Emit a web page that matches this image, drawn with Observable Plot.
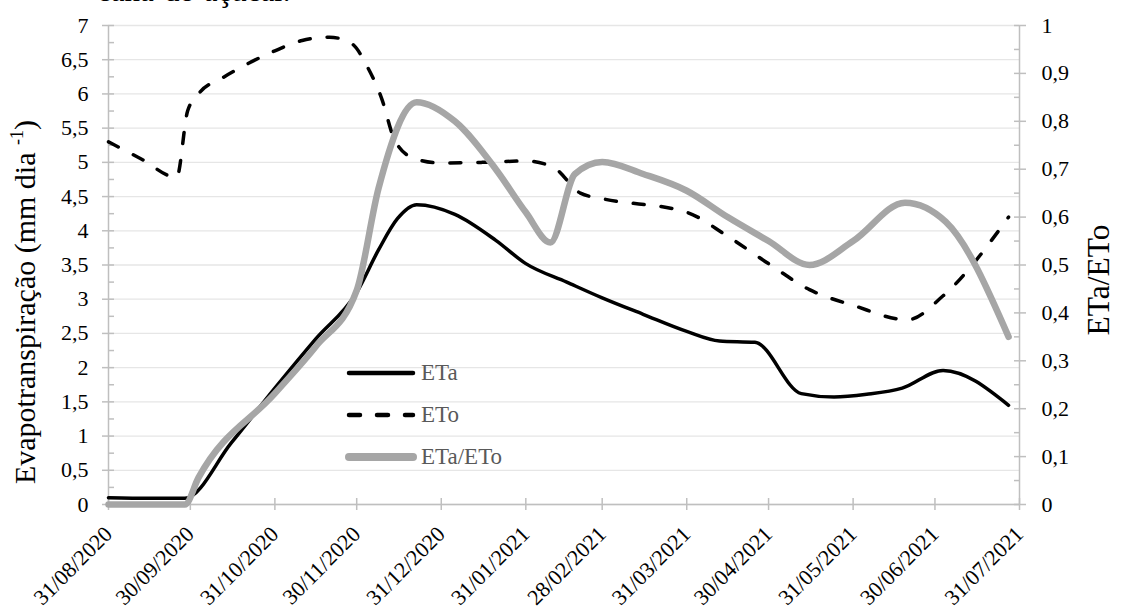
<!DOCTYPE html>
<html><head><meta charset="utf-8">
<script src="https://cdn.jsdelivr.net/npm/d3@7"></script>
<script src="https://cdn.jsdelivr.net/npm/@observablehq/plot@0.6"></script>
<style>
html,body{margin:0;padding:0;background:#fff;overflow:hidden;}
#wrap{position:relative;width:1124px;height:612px;overflow:hidden;}
#wrap, #wrap *{font-family:"Liberation Serif","Times New Roman",serif !important;}
#wrap svg text{font-family:"Liberation Serif","Times New Roman",serif !important;}
#cap{position:absolute;left:97px;top:-25px;font-size:31px;line-height:31px;white-space:nowrap;color:#000;}
.ytitle{position:absolute;white-space:nowrap;font-size:30px;line-height:34px;color:#000;transform:translate(-50%,-50%) rotate(-90deg);}
.ytitle sup{font-size:18px;vertical-align:12px;line-height:0;}
#y2{font-size:31.5px;}
#legend{position:absolute;left:345px;top:352px;font-size:23px;color:#595959;}
#legend .row{display:flex;align-items:center;height:42px;}
#legend svg{margin-right:4px;}
</style></head>
<body><div id="wrap"></div>
<script>
// ---- data ----
const xTicks = ["2020-08-31","2020-09-30","2020-10-31","2020-11-30","2020-12-31","2021-01-31","2021-02-28","2021-03-31","2021-04-30","2021-05-31","2021-06-30","2021-07-31"];
const xTickLabels = ["31/08/2020","30/09/2020","31/10/2020","30/11/2020","31/12/2020","31/01/2021","28/02/2021","31/03/2021","30/04/2021","31/05/2021","30/06/2021","31/07/2021"];
const leftTicks = [0,0.5,1,1.5,2,2.5,3,3.5,4,4.5,5,5.5,6,6.5,7];
const leftMinor = [0.25,0.75,1.25,1.75,2.25,2.75,3.25,3.75,4.25,4.75,5.25,5.75,6.25,6.75];
const rightTicks = [0,0.1,0.2,0.3,0.4,0.5,0.6,0.7,0.8,0.9,1];
const rightMinor = [0.05,0.15,0.25,0.35,0.45,0.55,0.65,0.75,0.85,0.95];

const etaDates = ["2020-08-31","2020-09-15","2020-09-28","2020-10-15","2020-10-31","2020-11-15","2020-11-30","2020-12-08","2020-12-15","2020-12-22","2021-01-05","2021-01-20","2021-01-31","2021-02-15","2021-02-28","2021-03-15","2021-03-31","2021-04-12","2021-04-25","2021-05-12","2021-05-24","2021-06-05","2021-06-18","2021-07-03","2021-07-27"];
const etaValues = [0.10,0.09,0.09,0.90,1.70,2.42,3.10,3.72,4.18,4.38,4.24,3.86,3.52,3.25,3.02,2.78,2.53,2.39,2.37,1.62,1.57,1.61,1.70,1.96,1.45];

const etoDates = ["2020-08-31","2020-09-12","2020-09-25","2020-09-29","2020-10-03","2020-10-12","2020-10-21","2020-10-31","2020-11-10","2020-11-20","2020-11-28","2020-12-04","2020-12-09","2020-12-14","2020-12-21","2020-12-31","2021-01-15","2021-01-31","2021-02-10","2021-02-20","2021-02-28","2021-03-31","2021-04-15","2021-04-30","2021-05-15","2021-05-31","2021-06-20","2021-07-03","2021-07-27"];
const etoValues = [5.30,5.05,4.78,5.75,6.00,6.24,6.44,6.63,6.78,6.83,6.74,6.39,5.95,5.32,5.06,4.99,5.00,5.02,4.93,4.55,4.47,4.27,3.92,3.52,3.14,2.91,2.70,3.05,4.20];

const ratioDates = ["2020-08-31","2020-09-15","2020-09-28","2020-10-03","2020-10-31","2020-11-15","2020-11-30","2020-12-08","2020-12-22","2021-01-05","2021-01-20","2021-01-31","2021-02-09","2021-02-18","2021-02-28","2021-03-15","2021-03-31","2021-04-15","2021-04-30","2021-05-15","2021-05-31","2021-06-19","2021-07-04","2021-07-27"];
const ratioValues = [0.00,0.00,0.00,0.056,0.232,0.33,0.447,0.66,0.84,0.80,0.70,0.61,0.547,0.69,0.715,0.69,0.655,0.60,0.55,0.50,0.55,0.63,0.59,0.35];

const seriesNames = ["ETa","ETo","ETa/ETo"];
const yTitle = "Evapotranspiração (mm dia ";
const ySup = "-1";
const y2Title = "ETa/ETo";
const caption = "cana-de-açúcar.";

// ---- chart ----
const parse = d3.utcParse("%Y-%m-%d");
const fmt = d => d3.format(".1~f")(d).replace(".", ",");
const AX = "#bfbfbf";
const FONT = "'Liberation Serif', 'Times New Roman', serif";
const K = 7; // right axis (0..1) mapped onto left axis (0..7)
const eta = etaDates.map((d,i)=>({date: parse(d), v: etaValues[i]}));
const eto = etoDates.map((d,i)=>({date: parse(d), v: etoValues[i]}));
const ratio = ratioDates.map((d,i)=>({date: parse(d), v: ratioValues[i]}));
const tickDates = xTicks.map(parse);
const labelMap = new Map(tickDates.map((d,i)=>[+d, xTickLabels[i]]));
const xmin = tickDates[0], xmax = tickDates[tickDates.length-1];

const plot = Plot.plot({
  width: 1124, height: 612,
  marginLeft: 108, marginRight: 105, marginTop: 25, marginBottom: 108,
  style: {fontFamily: FONT, fontSize: "22px", color: "#000", background: "transparent"},
  x: {type: "utc", domain: [xmin, xmax]},
  y: {domain: [0, 7]},
  marks: [
    Plot.gridY(leftTicks, {stroke: "#e6e6e6", strokeOpacity: 1, strokeWidth: 1.3}),
    Plot.ruleX([xmin, xmax], {stroke: AX, strokeWidth: 1.5}),
    Plot.ruleY([0], {stroke: AX, strokeWidth: 1.5}),
    // left axis
    Plot.axisY(leftTicks, {anchor: "left", tickSize: 12, dx: 6, tickFormat: () => "", stroke: AX, strokeWidth: 1.5, label: null}),
    Plot.axisY(leftMinor, {anchor: "left", tickSize: 6, dx: 6, tickFormat: () => "", stroke: AX, strokeWidth: 1.5, label: null}),
    Plot.axisY(leftTicks, {anchor: "left", tickSize: 0, tickPadding: 20, tickFormat: fmt, label: null, fontSize: 22}),
    // right axis
    Plot.axisY(rightTicks.map(r => r*K), {anchor: "right", tickSize: 12, dx: -6, tickFormat: () => "", stroke: AX, strokeWidth: 1.5, label: null}),
    Plot.axisY(rightMinor.map(r => r*K), {anchor: "right", tickSize: 6, dx: -6, tickFormat: () => "", stroke: AX, strokeWidth: 1.5, label: null}),
    Plot.axisY(rightTicks.map(r => r*K), {anchor: "right", tickSize: 0, tickPadding: 22, tickFormat: d => fmt(d/K), label: null, fontSize: 22}),
    // x axis
    Plot.axisX(tickDates, {anchor: "bottom", tickSize: 12, dy: -6, tickFormat: () => "", stroke: AX, strokeWidth: 1.5, label: null}),
    Plot.axisX(tickDates, {anchor: "bottom", tickSize: 0, tickPadding: 26, tickRotate: -45, tickFormat: d => labelMap.get(+d), label: null, fontSize: 22}),
    // series
    Plot.line(eta, {x: "date", y: "v", stroke: "#000", strokeWidth: 3.5, curve: "monotone-x"}),
    Plot.line(eto, {x: "date", y: "v", stroke: "#000", strokeWidth: 3.5, strokeDasharray: "11,17", strokeLinecap: "round", curve: "monotone-x"}),
    Plot.line(ratio, {x: "date", y: d => d.v*K, stroke: "#a6a6a6", strokeWidth: 6.5, strokeLinecap: "round", curve: "monotone-x"})
  ]
});

const wrap = document.getElementById("wrap");
wrap.appendChild(plot);

const cap = document.createElement("div");
cap.id = "cap"; cap.textContent = caption; wrap.appendChild(cap);

const yt = document.createElement("div");
yt.className = "ytitle"; yt.style.left = "25px"; yt.style.top = "302px";
yt.append(yTitle); const sup = document.createElement("sup"); sup.textContent = ySup; yt.append(sup); yt.append(")");
wrap.appendChild(yt);

const yt2 = document.createElement("div");
yt2.className = "ytitle"; yt2.id = "y2"; yt2.style.left = "1099px"; yt2.style.top = "280px";
yt2.textContent = y2Title; wrap.appendChild(yt2);

// legend
const styles = [
  {stroke: "#000", width: 4.5, dash: null},
  {stroke: "#000", width: 4.5, dash: "11,17"},
  {stroke: "#a6a6a6", width: 8, dash: null}
];
const leg = document.createElement("div"); leg.id = "legend";
seriesNames.forEach((name, i) => {
  const row = document.createElement("div"); row.className = "row";
  const s = styles[i];
  row.innerHTML = `<svg width="72" height="12"><line x1="4" y1="6" x2="68" y2="6" stroke="${s.stroke}" stroke-width="${s.width}" stroke-linecap="round" ${s.dash ? `stroke-dasharray="${s.dash}"` : ""}/></svg><span>${name}</span>`;
  leg.appendChild(row);
});
wrap.appendChild(leg);
</script>
</body></html>
